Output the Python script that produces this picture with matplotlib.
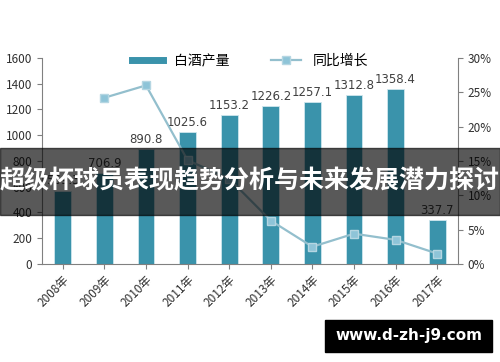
import numpy as np
from matplotlib import pyplot as plt
from matplotlib.patches import Rectangle

plt.rcParams['font.family'] = ['Noto Sans CJK SC', 'DejaVu Sans']

years = ['2008年', '2009年', '2010年', '2011年', '2012年', '2013年',
         '2014年', '2015年', '2016年', '2017年']
output = [569.3, 706.9, 890.8, 1025.6, 1153.2, 1226.2, 1257.1, 1312.8, 1358.4, 337.7]
growth = [None, 24.2, 26.0, 15.1, 12.4, 6.3, 2.5, 4.4, 3.5, 1.5]

bar_color = '#3a93ab'
line_color = '#93bfcd'
marker_color = '#8ec4d8'
grey = '#808080'

fig = plt.figure(figsize=(5, 3.62), dpi=100)
ax = fig.add_axes([0.084, 0.271, 0.832, 0.569])
x = np.arange(len(years))
ax.bar(x, output, width=0.4, color=bar_color, edgecolor='#cfe6ee', linewidth=0.6,
       label='白酒产量', zorder=2)
for xi, v in zip(x, output):
    ax.text(xi, v + 25, '%.1f' % v, ha='center', va='bottom', fontsize=8.5,
            color='#404040', family=['DejaVu Sans'])

ax.set_ylim(0, 1600)
ax.set_yticks(range(0, 1601, 200))
ax.set_xlim(-0.5, len(years) - 0.5)
ax.set_xticks(x)
ax.set_xticklabels(years, rotation=45, ha='right', rotation_mode='anchor', fontsize=8.5, color='#303030')
ax.tick_params(axis='y', labelsize=8.5, colors='#303030', color=grey)
ax.tick_params(axis='x', color=grey)
for s in ['top', 'right']:
    ax.spines[s].set_visible(False)
ax.spines['left'].set_color(grey)
ax.spines['bottom'].set_color(grey)

ax2 = ax.twinx()
gx = [i for i, g in enumerate(growth) if g is not None]
gy = [g for g in growth if g is not None]
ax2.plot(gx, gy, color=line_color, lw=1.6, marker='s', markersize=6,
         markerfacecolor=marker_color, markeredgecolor='#b5d6e2', label='同比增长', zorder=3)
ax2.set_ylim(0, 30)
ax2.set_yticks(range(0, 31, 5))
ax2.set_yticklabels(['%d%%' % t for t in range(0, 31, 5)])
ax2.tick_params(axis='y', labelsize=8.5, colors='#303030', color=grey)
for s in ['top', 'left', 'bottom']:
    ax2.spines[s].set_visible(False)
ax2.spines['right'].set_color(grey)

h1, l1 = ax.get_legend_handles_labels()
h2, l2 = ax2.get_legend_handles_labels()
fig.legend([plt.Line2D([], [], color=bar_color, lw=5), h2[0]], l1 + l2,
           loc='upper center', bbox_to_anchor=(0.5, 0.885), ncol=2, frameon=False,
           fontsize=10, handlelength=2.2, columnspacing=3)

# banner overlay
fig.patches.append(Rectangle((0, 0.406), 1, 0.185, transform=fig.transFigure,
                             color='black', alpha=0.65, zorder=10))
fig.text(0.5, 0.498, '超级杯球员表现趋势分析与未来发展潜力探讨', ha='center', va='center',
         color='white', fontsize=18, fontweight='bold', zorder=11)

fig.patches.append(Rectangle((0.65, 0.028), 0.334, 0.088, transform=fig.transFigure,
                             color='black', zorder=10))
fig.text(0.817, 0.072, 'www.d-zh-j9.com', ha='center', va='center', color='white',
         fontsize=11, fontweight='bold', zorder=11, family=['DejaVu Sans'])

fig.savefig('out.png', dpi=100)
